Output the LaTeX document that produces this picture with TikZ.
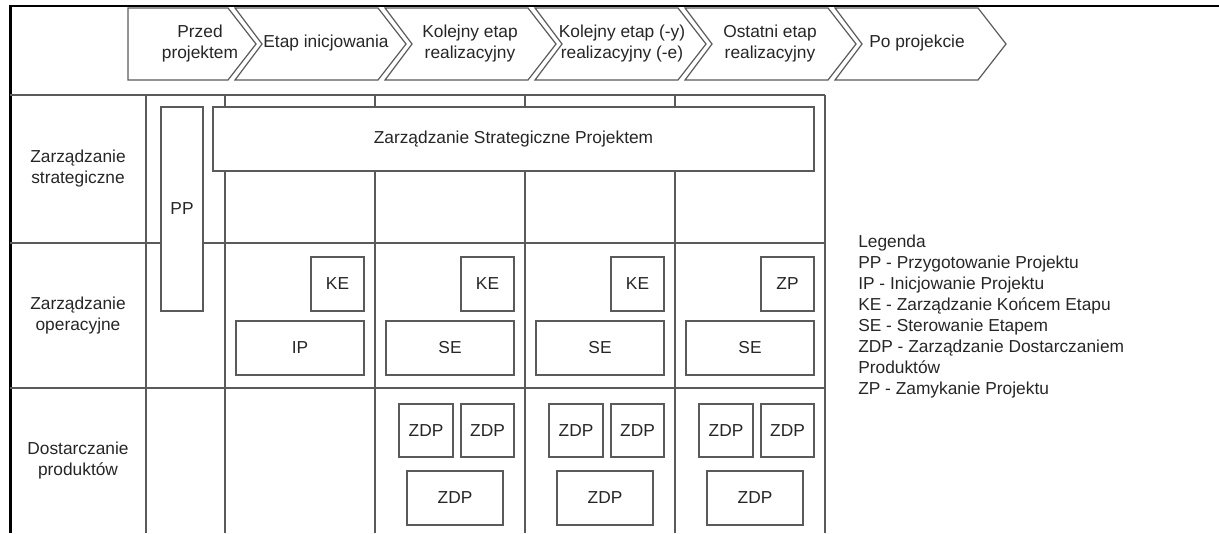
\documentclass[tikz,border=0pt]{standalone}
\usepackage{fontspec}
\setmainfont{Liberation Sans}
\definecolor{ink}{HTML}{262626}
\definecolor{linegray}{HTML}{5A5A5A}
\begin{document}
\begin{tikzpicture}[x=0.75pt,y=-0.75pt,
  every node/.style={font=\fontsize{13pt}{15.75pt}\selectfont, text=ink, inner sep=0pt},
  frame/.style={line width=1.7pt, draw=black},
  grid/.style={line width=0.9pt, draw=linegray},
  phase/.style={line width=0.9pt, draw=linegray, fill=white},
  box/.style={draw=linegray, fill=white, line width=0.9pt, align=center},
  sz/.style 2 args={minimum width=#1*0.75pt, minimum height=#2*0.75pt},
  lbl/.style={align=center}]
\useasboundingbox (0,0) rectangle (1219,533);

% outer frame (continues beyond the right and bottom edges)
\draw[frame] (1219,6) -- (10.5,6) -- (10.5,533);

% phase chevrons
\draw[phase] (128,8) -- (228,8) -- (256,44) -- (228,80) -- (128,80) -- cycle;
\foreach \L in {235,385,535,685,835}
  \draw[phase] (\L,8) -- ({\L+143},8) -- ({\L+171},44) -- ({\L+143},80)
               -- (\L,80) -- ({\L+27},44) -- cycle;
\node[lbl] (ph1) at (200,44) {Przed\\projektem};
\node[lbl] (ph2) at (326,43) {Etap inicjowania};
\node[lbl] (ph3) at (470,44) {Kolejny etap\\realizacyjny};
\node[lbl] (ph4) at (622,44) {Kolejny etap (-y)\\realizacyjny (-e)};
\node[lbl] (ph5) at (770,44) {Ostatni etap\\realizacyjny};
\node[lbl] (ph6) at (917,43) {Po projekcie};

% table grid
\foreach \y in {95,243,388} \draw[grid] (10,\y) -- (825,\y);
\foreach \x in {146,225,375,525,675,825} \draw[grid] (\x,95) -- (\x,533);

% row headers
\node[lbl] (r1) at (78,169) {Zarządzanie\\strategiczne};
\node[lbl] (r2) at (78,316) {Zarządzanie\\operacyjne};
\node[lbl] (r3) at (78,461) {Dostarczanie\\produktów};

% process boxes
\node[box, sz={42}{204}] (pp) at (182,209) {PP};
\node[box, sz={601}{64}] (zsp) at (513.5,139) {Zarządzanie Strategiczne Projektem};

\node[box, sz={53}{54}] (ke1) at (337.5,284) {KE};
\node[box, sz={53}{54}] (ke2) at (487.5,284) {KE};
\node[box, sz={53}{54}] (ke3) at (637.5,284) {KE};
\node[box, sz={53}{54}] (zp)  at (787.5,284) {ZP};

\node[box, sz={128}{54}] (ip)  at (300,348) {IP};
\node[box, sz={128}{54}] (se1) at (450,348) {SE};
\node[box, sz={128}{54}] (se2) at (600,348) {SE};
\node[box, sz={128}{54}] (se3) at (750,348) {SE};

\foreach \c/\n in {0/a,150/b,300/c}{
  \node[box, sz={54}{53}] (zdp\n1) at ({426+\c},430.5) {ZDP};
  \node[box, sz={53}{53}] (zdp\n2) at ({487.5+\c},430.5) {ZDP};
  \node[box, sz={96}{54}] (zdp\n3) at ({455+\c},498) {ZDP};
}

% legend
\foreach \t [count=\i] in {Legenda,PP - Przygotowanie Projektu,IP - Inicjowanie Projektu,
    KE - Zarządzanie Końcem Etapu,SE - Sterowanie Etapem,ZDP - Zarządzanie Dostarczaniem,
    Produktów,ZP - Zamykanie Projektu}
  \node[anchor=base west] (leg\i) at (858,{226.5+21*\i}) {\t};
\end{tikzpicture}
\end{document}
